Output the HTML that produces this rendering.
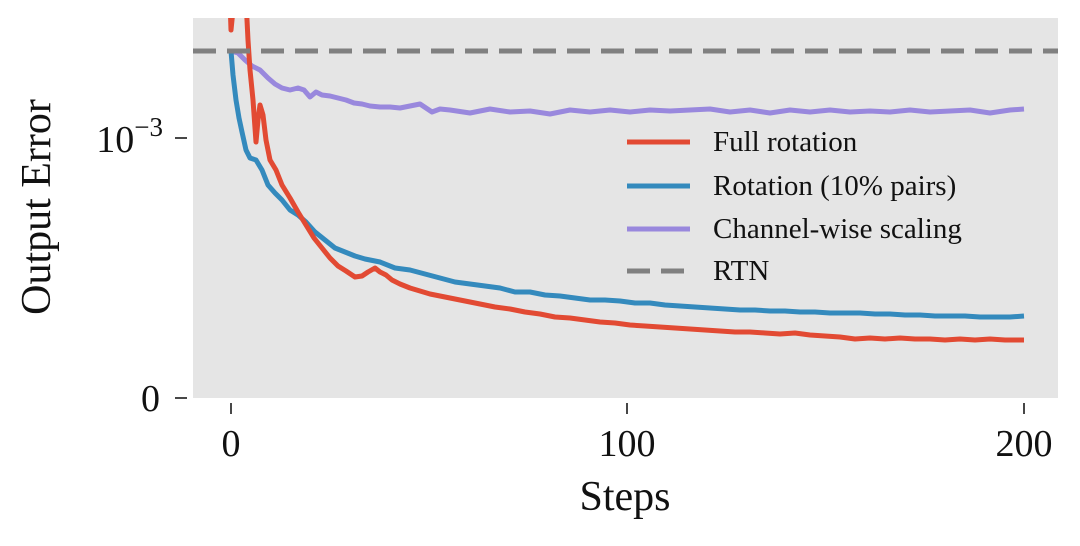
<!DOCTYPE html><html><head><style>body{margin:0;background:#fff}svg{display:block}text{font-family:"Liberation Serif",serif;fill:#111}</style></head><body>
<svg width="1080" height="546" viewBox="0 0 1080 546">
<rect x="193" y="18" width="865" height="380" fill="#e5e5e5"/>
<g stroke="#333" stroke-width="1.8">
<line x1="175" y1="138" x2="187" y2="138"/><line x1="175" y1="398" x2="187" y2="398"/>
<line x1="231" y1="403" x2="231" y2="414"/><line x1="627" y1="403" x2="627" y2="414"/><line x1="1024" y1="403" x2="1024" y2="414"/>
</g>
<text x="231" y="456" font-size="38" text-anchor="middle">0</text>
<text x="627" y="456" font-size="38" text-anchor="middle">100</text>
<text x="1024" y="456" font-size="38" text-anchor="middle">200</text>
<text x="160" y="411" font-size="38" text-anchor="end">0</text>
<text x="163" y="152" font-size="38" text-anchor="end">10<tspan dy="-16" font-size="27">−3</tspan></text>
<text x="625" y="510" font-size="42" text-anchor="middle">Steps</text>
<text transform="translate(50,207) rotate(-90)" font-size="42" text-anchor="middle">Output Error</text>
<svg x="193" y="18" width="865" height="380" viewBox="193 18 865 380" overflow="hidden">
<g fill="none" stroke-width="5" stroke-linejoin="round">
<polyline stroke="#9988dd" points="231,51 238,53 245,60 252,66 260,70 268,78 275,84 282,88 290,90 298,88 304,90 310,97 316,92 322,95 330,96 338,98 346,100 354,103 362,104 370,106 380,107 390,107 400,108 410,106 420,104 426,108 432,112 440,109 450,110 470,113 490,109 510,112 530,111 550,114 570,110 590,112 610,110 630,112 650,110 670,111 690,110 710,109 730,112 750,110 770,113 790,110 810,112 830,110 850,112 870,111 890,112 910,110 930,112 950,111 970,110 990,113 1010,110 1024,109"/>
<polyline stroke="#348abd" points="231,51 233,75 236,100 239,118 242,132 246,150 250,158 256,160 262,170 268,185 275,193 282,200 290,210 298,215 306,222 315,232 325,240 335,248 345,252 355,256 365,259 380,262 395,268 410,270 425,274 440,278 455,282 470,284 485,286 500,288 515,292 530,292 545,295 560,296 575,298 590,300 605,300 620,301 635,303 650,303 665,305 680,306 695,307 710,308 725,309 740,310 755,310 770,311 785,311 800,312 815,312 830,313 845,313 860,313 875,314 890,314 905,315 920,315 935,316 950,316 965,316 980,317 995,317 1010,317 1024,316"/>
<polyline stroke="#e24a33" points="230,0 231,30 233,10 237,0 246,0 248,40 250,70 253,100 256,142 258,120 260,105 263,115 266,140 270,160 276,170 282,185 290,198 298,212 306,225 314,238 322,248 330,258 338,266 346,271 355,277 362,276 368,272 375,268 380,272 386,275 392,280 400,284 410,288 420,291 430,294 440,296 450,298 465,301 480,304 495,307 510,309 525,312 540,314 555,317 570,318 585,320 600,322 615,323 630,325 645,326 660,327 675,328 690,329 705,330 720,331 735,332 750,332 765,333 780,334 795,333 810,335 825,336 840,337 855,339 870,338 885,339 900,338 915,339 930,339 945,340 960,339 975,340 990,339 1005,340 1024,340"/>
</g>
</svg>
<line x1="193" y1="51" x2="1058" y2="51" stroke="#808080" stroke-width="5" stroke-dasharray="23,11"/>
<g stroke-width="5"><line x1="627" y1="142" x2="690" y2="142" stroke="#e24a33"/><line x1="627" y1="186" x2="690" y2="186" stroke="#348abd"/><line x1="627" y1="229" x2="690" y2="229" stroke="#9988dd"/><line x1="627" y1="271" x2="690" y2="271" stroke="#808080" stroke-width="5" stroke-dasharray="23,11"/></g>
<g font-size="29"><text x="713" y="151">Full rotation</text><text x="713" y="195">Rotation (10% pairs)</text><text x="713" y="238">Channel-wise scaling</text><text x="713" y="280">RTN</text></g>
</svg></body></html>
